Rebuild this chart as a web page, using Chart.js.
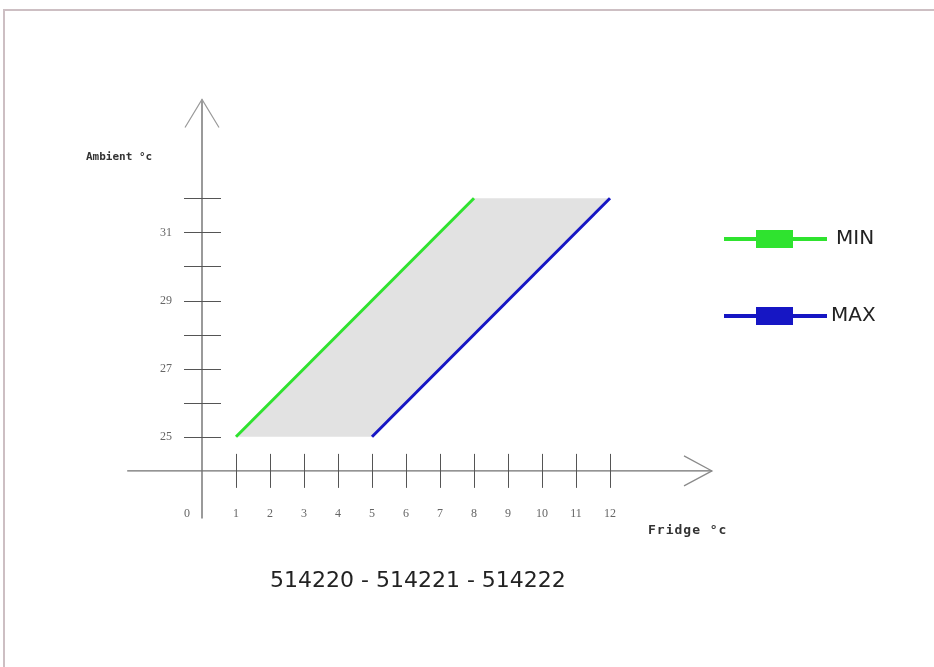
<!DOCTYPE html>
<html>
<head>
<meta charset="utf-8">
<script src="https://cdn.jsdelivr.net/npm/chart.js@4.4.0/dist/chart.umd.min.js"></script>
<style>
  html, body { margin: 0; padding: 0; background: #fff; }
  #wrap { width: 934px; height: 667px; position: relative; }
</style>
</head>
<body>
<div id="wrap"><canvas id="fridgeChart"></canvas></div>
<script>
// ===== DATA =====

const seriesNames = ['MIN', 'MAX'];
const minFridge = [1, 8];
const minAmbient = [25, 32];
const maxFridge = [5, 12];
const maxAmbient = [25, 32];

const xTicks = [1, 2, 3, 4, 5, 6, 7, 8, 9, 10, 11, 12];
const xTickLabels = ['1', '2', '3', '4', '5', '6', '7', '8', '9', '10', '11', '12'];
const yTicks = [25, 26, 27, 28, 29, 30, 31, 32];
const yTickLabels = ['25', '', '27', '', '29', '', '31', ''];
const originLabel = '0';

const xTitle = 'Fridge °c';
const yTitle = 'Ambient °c';
const chartTitle = '514220 - 514221 - 514222';

const seriesColors = ['#2fe32f', '#1616c4'];

// ===== BUILD POINTS =====

const toPoints = (xs, ys) => xs.map((x, i) => ({ x: x, y: ys[i] }));
const minPoints = toPoints(minFridge, minAmbient);
const maxPoints = toPoints(maxFridge, maxAmbient);
// band = MIN line up, then MAX line back down
const bandPoints = minPoints.concat(maxPoints.slice().reverse());

// ===== AXES, LABELS, LEGEND =====

const decor = {
  id: 'decor',
  beforeDatasetsDraw(chart) {
    const ctx = chart.ctx;
    const xs = chart.scales.x;
    const ys = chart.scales.y;
    const ox = xs.getPixelForValue(0);
    const oy = ys.getPixelForValue(24);

    ctx.save();

    // frame
    ctx.strokeStyle = '#cdbfc3';
    ctx.lineWidth = 2;
    ctx.beginPath();
    ctx.moveTo(4, 667);
    ctx.lineTo(4, 10);
    ctx.lineTo(934, 10);
    ctx.stroke();

    // y axis + arrow
    const yTop = ys.getPixelForValue(34.9);
    ctx.strokeStyle = '#9a9a9a';
    ctx.lineWidth = 2;
    ctx.beginPath();
    ctx.moveTo(ox, ys.getPixelForValue(22.6));
    ctx.lineTo(ox, yTop);
    ctx.stroke();
    ctx.lineWidth = 1.2;
    ctx.beginPath();
    ctx.moveTo(ox - 17, yTop + 28);
    ctx.lineTo(ox, yTop);
    ctx.lineTo(ox + 17, yTop + 28);
    ctx.stroke();

    // x axis + arrow
    const xEnd = xs.getPixelForValue(15);
    ctx.strokeStyle = '#707070';
    ctx.lineWidth = 1.2;
    ctx.beginPath();
    ctx.moveTo(xs.getPixelForValue(-2.2), oy);
    ctx.lineTo(xEnd, oy);
    ctx.stroke();
    ctx.strokeStyle = '#8a8a8a';
    ctx.beginPath();
    ctx.moveTo(xEnd - 28, oy - 15);
    ctx.lineTo(xEnd, oy);
    ctx.lineTo(xEnd - 28, oy + 15);
    ctx.stroke();

    // ticks
    ctx.strokeStyle = '#555';
    ctx.lineWidth = 1;
    ctx.beginPath();
    yTicks.forEach(v => {
      const py = Math.round(ys.getPixelForValue(v)) + 0.5;
      ctx.moveTo(ox - 18, py);
      ctx.lineTo(ox + 19, py);
    });
    xTicks.forEach(v => {
      const px = Math.round(xs.getPixelForValue(v)) + 0.5;
      ctx.moveTo(px, oy - 17);
      ctx.lineTo(px, oy + 17);
    });
    ctx.stroke();

    // tick labels
    ctx.fillStyle = '#666';
    ctx.font = '12px "Liberation Serif"';
    ctx.textBaseline = 'middle';
    ctx.textAlign = 'right';
    yTicks.forEach((v, i) => {
      if (yTickLabels[i]) ctx.fillText(yTickLabels[i], ox - 30, ys.getPixelForValue(v));
    });
    ctx.textAlign = 'center';
    xTicks.forEach((v, i) => {
      ctx.fillText(xTickLabels[i], xs.getPixelForValue(v), oy + 43);
    });
    ctx.fillText(originLabel, ox - 15, oy + 43);

    // axis titles
    ctx.fillStyle = '#333';
    ctx.textAlign = 'left';
    ctx.font = 'bold 11px "DejaVu Sans Mono"';
    ctx.fillText(yTitle, 86, 157);
    ctx.font = 'bold 13px "DejaVu Sans Mono"';
    ctx.letterSpacing = '1px';
    ctx.fillText(xTitle, 648, 531);
    ctx.letterSpacing = '0px';

    ctx.restore();
  },
  afterDraw(chart) {
    const ctx = chart.ctx;
    ctx.save();

    // legend
    seriesNames.forEach((name, i) => {
      const cy = 239 + i * 77;
      ctx.strokeStyle = seriesColors[i];
      ctx.lineWidth = 4;
      ctx.beginPath();
      ctx.moveTo(724, cy);
      ctx.lineTo(827, cy);
      ctx.stroke();
      ctx.fillStyle = seriesColors[i];
      ctx.fillRect(756, cy - 9, 37, 18);
      ctx.fillStyle = '#222';
      ctx.font = '20px "DejaVu Sans"';
      ctx.textBaseline = 'middle';
      ctx.textAlign = 'left';
      ctx.fillText(name, i === 0 ? 836 : 831, cy);
    });

    // part numbers
    ctx.fillStyle = '#222';
    ctx.font = '22px "DejaVu Sans"';
    ctx.textAlign = 'left';
    ctx.textBaseline = 'middle';
    ctx.fillText(chartTitle, 270, 581);

    ctx.restore();
  }
};

// ===== CHART =====

const ctx = document.getElementById('fridgeChart').getContext('2d');
const fridgeChart = new Chart(ctx, {
  type: 'line',
  data: {
    datasets: [
      {
        label: 'band',
        data: bandPoints,
        fill: 'shape',
        backgroundColor: '#e2e2e2',
        borderWidth: 0,
        pointRadius: 0,
        tension: 0,
        order: 3
      },
      {
        label: seriesNames[0],
        data: minPoints,
        borderColor: seriesColors[0],
        borderWidth: 3,
        pointRadius: 0,
        fill: false,
        order: 1
      },
      {
        label: seriesNames[1],
        data: maxPoints,
        borderColor: seriesColors[1],
        borderWidth: 3,
        pointRadius: 0,
        fill: false,
        order: 2
      }
    ]
  },
  options: {
    responsive: true,
    maintainAspectRatio: false,
    animation: false,
    layout: {
      padding: { left: 117, right: 205, top: 79, bottom: 145 }
    },
    plugins: {
      legend: { display: false },
      tooltip: { enabled: false }
    },
    scales: {
      x: { type: 'linear', min: -2.5, max: 15.5, display: false },
      y: { type: 'linear', min: 22.5, max: 35.5, display: false }
    }
  },
  plugins: [decor]
});
</script>
</body>
</html>
